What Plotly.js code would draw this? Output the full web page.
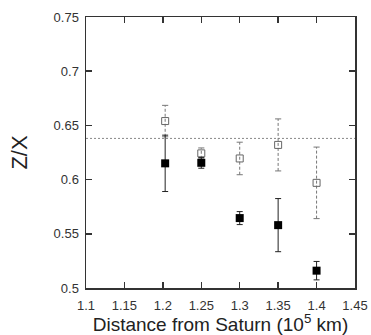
<!DOCTYPE html>
<html><head><meta charset="utf-8">
<script src="https://cdn.plot.ly/plotly-3.0.1.min.js"></script>
<style>html,body{margin:0;padding:0;background:#fff}</style>
</head><body><div id="chart" style="width:371px;height:335px"></div>
<script>
var distance = [1.203, 1.25, 1.3, 1.35, 1.4];
var filledZX = [0.615, 0.6155, 0.5645, 0.558, 0.516];
var filledErr = [0.026, 0.005, 0.006, 0.0245, 0.0085];
var openZX = [0.654, 0.6242, 0.6195, 0.632, 0.597];
var openErr = [0.0145, 0.005, 0.015, 0.024, 0.033];
var referenceZX = 0.638;
var xTicks = [1.1, 1.15, 1.2, 1.25, 1.3, 1.35, 1.4, 1.45];
var yTicks = [0.5, 0.55, 0.6, 0.65, 0.7, 0.75];

// dashed error bars for open series built from data arrays
var capHalf = 0.004;
var barX = [], barY = [], capX = [], capY = [];
for (var i = 0; i < distance.length; i++) {
  barX.push(distance[i], distance[i], null);
  barY.push(openZX[i] - openErr[i], openZX[i] + openErr[i], null);
  [openZX[i] - openErr[i], openZX[i] + openErr[i]].forEach(function (v) {
    capX.push(distance[i] - capHalf, distance[i] + capHalf, null);
    capY.push(v, v, null);
  });
}

var traces = [
  {x: [1.1, 1.45], y: [referenceZX, referenceZX], mode: 'lines',
   line: {color: '#888', width: 1, dash: '2px,2px'}, hoverinfo: 'skip'},
  {x: barX, y: barY, mode: 'lines', line: {color: '#777', width: 1, dash: '3px,2px'}, hoverinfo: 'skip'},
  {x: capX, y: capY, mode: 'lines', line: {color: '#777', width: 1}, hoverinfo: 'skip'},
  {x: distance, y: openZX, mode: 'markers',
   marker: {symbol: 'square-open', size: 7, color: '#666', line: {width: 1, color: '#666'}}},
  {x: distance, y: filledZX, mode: 'markers',
   error_y: {type: 'data', array: filledErr, visible: true, color: '#222', thickness: 1, width: 3},
   marker: {symbol: 'square', size: 8, color: '#000'}}
];

var axisCommon = {
  showgrid: false, zeroline: false, showline: true, linecolor: '#333', linewidth: 1.5,
  mirror: 'ticks', ticks: 'inside', ticklen: 6, tickwidth: 1.5, tickcolor: '#333',
  tickfont: {family: 'Liberation Sans, Arial, sans-serif', size: 13, color: '#333'}
};

var layout = {
  width: 371, height: 335,
  margin: {l: 86, r: 16, t: 17, b: 47},
  showlegend: false,
  paper_bgcolor: '#fff', plot_bgcolor: '#fff',
  xaxis: Object.assign({}, axisCommon, {
    range: [1.1, 1.45], tickvals: xTicks, ticktext: xTicks.map(String),
    ticklabelstandoff: 5,
    title: {text: 'Distance from Saturn (10<sup>5</sup> km)', standoff: 2,
            font: {family: 'Liberation Sans, Arial, sans-serif', size: 19, color: '#222'}}
  }),
  yaxis: Object.assign({}, axisCommon, {
    range: [0.5, 0.75], tickvals: yTicks, ticktext: yTicks.map(String),
    ticklabelstandoff: 3,
    title: {text: 'Z/X', standoff: 20,
            font: {family: 'Liberation Sans, Arial, sans-serif', size: 22, color: '#222'}}
  })
};

Plotly.newPlot('chart', traces, layout, {displayModeBar: false, staticPlot: true});
</script></body></html>
